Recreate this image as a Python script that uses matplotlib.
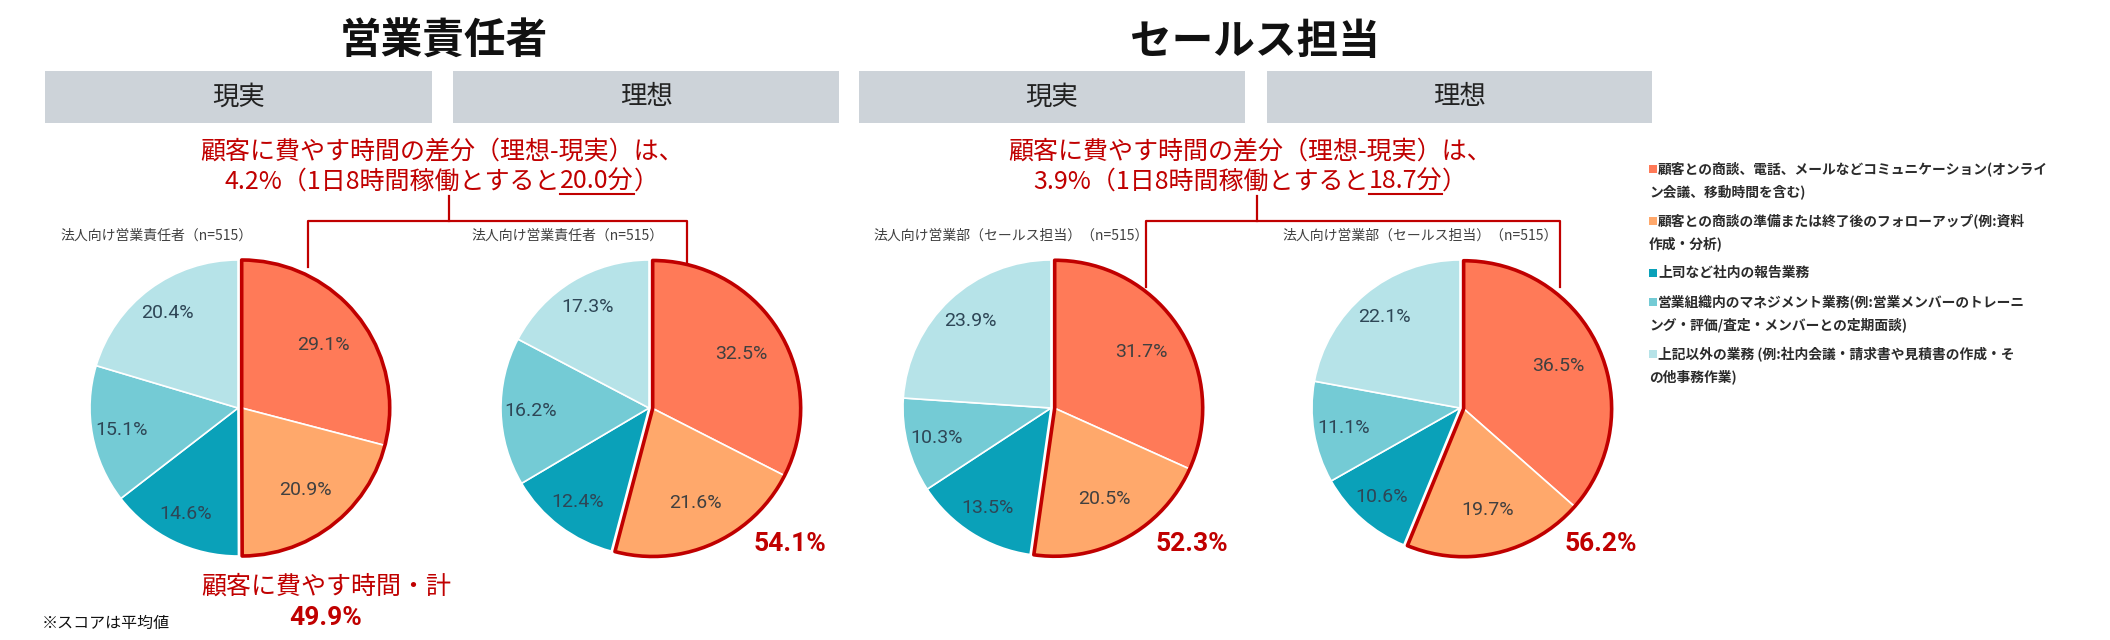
import matplotlib
matplotlib.use('Agg')
import matplotlib.pyplot as plt
from matplotlib.patches import Rectangle, Wedge
from matplotlib.lines import Line2D
import numpy as np

plt.rcParams['font.family'] = ['Noto Sans CJK JP', 'DejaVu Sans']

# ---- data ----
categories = [
    '顧客との商談、電話、メールなどコミュニケーション(オンライ\nン会議、移動時間を含む)',
    '顧客との商談の準備または終了後のフォローアップ(例:資料\n作成・分析)',
    '上司など社内の報告業務',
    '営業組織内のマネジメント業務(例:営業メンバーのトレーニ\nング・評価/査定・メンバーとの定期面談)',
    '上記以外の業務 (例:社内会議・請求書や見積書の作成・そ\nの他事務作業)',
]
colors = ['#FF7A58', '#FFA86B', '#0AA1B9', '#74CBD5', '#B6E3E8']

mgr_real = [29.1, 20.9, 14.6, 15.1, 20.4]
mgr_ideal = [32.5, 21.6, 12.4, 16.2, 17.3]
sales_real = [31.7, 20.5, 13.5, 10.3, 23.9]
sales_ideal = [36.5, 19.7, 10.6, 11.1, 22.1]
pie_values = [mgr_real, mgr_ideal, sales_real, sales_ideal]
customer_totals = [49.9, 54.1, 52.3, 56.2]

group_titles = ['営業責任者', 'セールス担当']
panel_labels = ['現実', '理想']
subtitles = ['法人向け営業責任者（n=515）', '法人向け営業部（セールス担当）（n=515）']
diff_pct = [4.2, 3.9]
diff_minutes = [20.0, 18.7]

W, H = 2110, 640
RED = '#C00000'

fig = plt.figure(figsize=(W / 100, H / 100), dpi=100)
renderer = fig.canvas.get_renderer()


def fig_text(x, y, s, **kw):
    return fig.text(x / W, 1 - y / H, s, **kw)


def fig_line(xs, ys, **kw):
    fig.add_artist(Line2D([x / W for x in xs], [1 - y / H for y in ys],
                          transform=fig.transFigure, **kw))


def text_runs(xc, y, runs, **kw):
    # centred line made of pieces, some underlined
    widths = []
    for s, _ in runs:
        t = fig_text(0, y, s, **kw)
        widths.append(t.get_window_extent(renderer).width)
        t.remove()
    x = xc - sum(widths) / 2
    for (s, ul), w in zip(runs, widths):
        t = fig_text(x, y, s, ha='left', va='center', **kw)
        if ul:
            bb = t.get_window_extent(renderer)
            fig.add_artist(Line2D([bb.x0 / W, bb.x1 / W], [(bb.y0 + 1) / H] * 2,
                                  transform=fig.transFigure, color=kw.get('color'), lw=1.5))
        x += w


# titles
title_x = [444, 1255]
for t, x in zip(group_titles, title_x):
    fig_text(x, 42, t, fontsize=30, fontweight='bold', ha='center', va='center', color='#111111')

# grey header boxes
box_x = [(45, 432), (453, 839), (859, 1245), (1267, 1652)]
for i, (x0, x1) in enumerate(box_x):
    fig.add_artist(Rectangle((x0 / W, 1 - 123 / H), (x1 - x0) / W, 52 / H,
                             transform=fig.transFigure, facecolor='#CDD3D9', edgecolor='none'))
    fig_text((x0 + x1) / 2, 97, panel_labels[i % 2], fontsize=19, ha='center', va='center',
             color='#222222')

# difference call-outs + brackets
diff_x = [442, 1250]
brk_x = [449, 1257]
brk_span = [(308, 687), (1146, 1560)]
brk_end = [(267, 262), (287, 287)]
for g in range(2):
    fig_text(diff_x[g], 152, '顧客に費やす時間の差分（理想-現実）は、', fontsize=18,
             ha='center', va='center', color=RED)
    text_runs(diff_x[g], 182,
              [(f'{diff_pct[g]:.1f}%（1日8時間稼働とすると', False),
               (f'{diff_minutes[g]:.1f}分', True), ('）', False)],
              fontsize=18, color=RED)
    fig_line([brk_x[g], brk_x[g]], [196, 221], color=RED, lw=1.6)
    x0, x1 = brk_span[g]
    fig_line([x0, x0, x1, x1], [brk_end[g][0], 221, 221, brk_end[g][1]], color=RED, lw=1.6)

# pies
pie_cx = [238, 649, 1051, 1460]
pie_cy = 408
R = 148
span = 1.5
for i, vals in enumerate(pie_values):
    cx = pie_cx[i]
    ax = fig.add_axes([(cx - R * span) / W, (H - pie_cy - R * span) / H,
                       2 * R * span / W, 2 * R * span / H])
    ax.patch.set_alpha(0)
    wedges, _ = ax.pie(vals, colors=colors, startangle=90, counterclock=False,
                       wedgeprops=dict(edgecolor='white', linewidth=1.2))
    frac = (vals[0] + vals[1]) / sum(vals)
    ang = np.deg2rad(90 - frac * 180)
    off = (0.025 * np.cos(ang), 0.025 * np.sin(ang))
    for w in wedges[:2]:
        w.set_center(off)
    ax.add_patch(Wedge(off, 1, wedges[1].theta1, wedges[0].theta2, fill=False,
                       edgecolor=RED, linewidth=2.6, joinstyle='round'))
    for k, (w, v) in enumerate(zip(wedges, vals)):
        mid = np.deg2rad((w.theta1 + w.theta2) / 2)
        c0 = w.center
        dist = 0.7 if k < 2 else 0.8
        ax.text(c0[0] + dist * np.cos(mid), c0[1] + dist * np.sin(mid), f'{v:.1f}%',
                ha='center', va='center', fontsize=14, family='Roboto',
                color='#404040' if k < 2 else '#2E4656')
    ax.set_xlim(-span, span)
    ax.set_ylim(-span, span)
    ax.set_aspect('equal')
    ax.text(-178 / R, 172 / R, subtitles[i // 2], fontsize=10, ha='left', va='center',
            color='#404040')
    if i == 0:
        ax.text(88 / R, -179 / R, '顧客に費やす時間・計', fontsize=18, ha='center', va='center',
                color=RED)
        ax.text(88 / R, -210 / R, f'{customer_totals[i]:.1f}%', fontsize=19, ha='center',
                va='center', color=RED, fontweight='bold', family='Roboto')
    else:
        ax.text(141 / R, -136 / R, f'{customer_totals[i]:.1f}%', fontsize=19, ha='center',
                va='center', color=RED, fontweight='bold', family='Roboto')

fig_text(42, 623, '※スコアは平均値', fontsize=11.5, ha='left', va='center', color='#111111')

# legend
leg_x = 1649
y = 169
for lab, col in zip(categories, colors):
    lines = lab.split('\n')
    fig.add_artist(Rectangle((leg_x / W, 1 - (y + 4) / H), 8 / W, 8 / H,
                             transform=fig.transFigure, facecolor=col, edgecolor='none'))
    for k, line in enumerate(lines):
        fig_text(leg_x + (9 if k == 0 else 0), y, line, fontsize=9.9, fontweight='bold',
                 ha='left', va='center', color='#2B2B2B')
        if k < len(lines) - 1:
            y += 23
    y += 29

fig.savefig('out.png', dpi=100, facecolor='white')
